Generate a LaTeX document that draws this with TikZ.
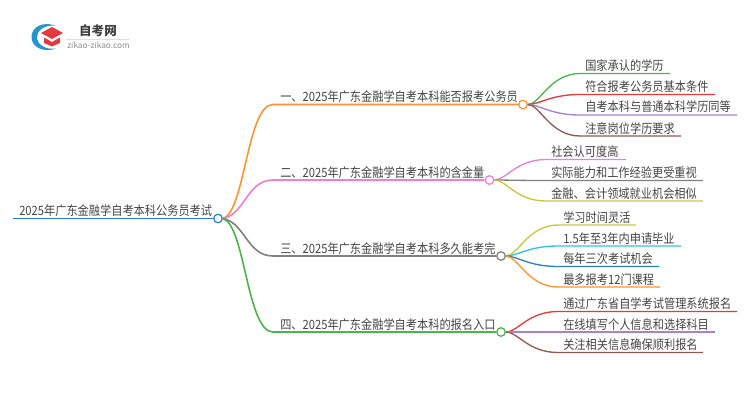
\documentclass[tikz,border=0pt]{standalone}
\usepackage{fontspec}
\setmainfont{Noto Sans CJK SC}
\newfontfamily\lblfont[FakeStretch=0.875]{Noto Sans CJK SC}
\definecolor{ctext}{HTML}{444444}
\definecolor{cblue}{HTML}{2B82C9}
\definecolor{corange}{HTML}{FF9233}
\definecolor{cpink}{HTML}{EE7FD2}
\definecolor{cgray}{HTML}{808080}
\definecolor{cgreen}{HTML}{4DB34D}
\definecolor{cred}{HTML}{E23B3F}
\definecolor{cpurple}{HTML}{A981CE}
\definecolor{cbrown}{HTML}{8E5B52}
\definecolor{colive}{HTML}{C8C83F}
\definecolor{ccyan}{HTML}{2FC4DC}
\tikzset{
  x=0.75pt,y=-0.75pt,
  lbl/.style={anchor=base west,inner sep=0pt,text=ctext,font=\lblfont\fontsize{9.6pt}{11pt}\selectfont},
  hub/.style={circle,draw=#1,fill=white,line width=0.95pt,minimum size=6.4pt,inner sep=0pt},
  trunk/.style={draw=#1,line width=1.2pt},
  twig/.style={draw=#1,line width=1pt},
}
\newcommand{\mytwig}[8]{%
  \coordinate (#2s) at (#5,#4);
  \coordinate (#2e) at (#6,#4);
  \node[lbl] (#2) at (#7,#4-3) {#8};
  \draw[twig=#3] (#1.east) .. controls +(12,0) and +(-30,0) .. (#2s) -- (#2e);
}
\begin{document}
\begin{tikzpicture}
\useasboundingbox (0,0) rectangle (750,410);
% logo
\fill[cblue!85!cyan] (55,25.5) .. controls (44,21.5) and (31.5,26) .. (31.5,37) .. controls (31.5,47.5) and (44,53) .. (56,48.5) .. controls (46,50) and (37,45) .. (37,37) .. controls (37,30) and (45,25) .. (55,25.5) -- cycle;
\fill[cred] (52,27) -- (63,33) -- (52,39) -- (41,33) -- cycle;
\fill[cred] (44,37.5) -- (52,42) -- (60,37.5) -- (60,43) -- (52,46.5) -- (44,43) -- cycle;
\node[inner sep=0pt,text=black!75,font=\fontsize{9.4pt}{11pt}\selectfont\bfseries] (logot) at (98,30.5) {自考网};
\node[inner sep=0pt,text=black!45,font=\fontsize{6.2pt}{7pt}\selectfont] (logou) at (98.5,45) {zikao-zikao.com};
\coordinate (logoa) at (66,39);
\coordinate (logob) at (130,39);
\draw[black!12,line width=0.5pt] (logoa) -- (logob);
% root
\node[hub=cblue] (root) at (218,218.5) {};
\coordinate (roots) at (13,218.5);
\node[lbl] (roott) at (19,215.5) {2025年广东金融学自考本科公务员考试};
\draw[trunk=cblue] (roots) -- (root);
% branches
\node[hub=corange] (a) at (523,104.5) {};
\node[hub=cpink] (b) at (489.5,180) {};
\node[hub=cgray] (c) at (501,256) {};
\node[hub=cgreen] (d) at (501,332) {};
\coordinate (as) at (273,104.5);
\coordinate (bs) at (273,180);
\coordinate (cs) at (273,256);
\coordinate (ds) at (273,332);
\node[lbl] (at) at (280,101.5) {一、2025年广东金融学自考本科能否报考公务员};
\node[lbl] (bt) at (280,177) {二、2025年广东金融学自考本科的含金量};
\node[lbl] (ct) at (280,253) {三、2025年广东金融学自考本科多久能考完};
\node[lbl] (dt) at (280,329) {四、2025年广东金融学自考本科的报名入口};
\draw[trunk=corange] (root.east) .. controls +(22,-6) and +(-26,0) .. (as) -- (a);
\draw[trunk=cpink] (root.east) .. controls +(22,-4) and +(-26,0) .. (bs) -- (b);
\draw[trunk=cgray] (root.east) .. controls +(22,4) and +(-26,0) .. (cs) -- (c);
\draw[trunk=cgreen] (root.east) .. controls +(22,6) and +(-26,0) .. (ds) -- (d);
% leaves
\mytwig{a}{a1}{cgreen}{73.5}{580}{670}{585}{国家承认的学历}
\mytwig{a}{a2}{cred}{94.5}{580}{715}{585}{符合报考公务员基本条件}
\mytwig{a}{a3}{cpurple}{115}{580}{737}{585}{自考本科与普通本科学历同等}
\mytwig{a}{a4}{cbrown}{136}{580}{681}{585}{注意岗位学历要求}
\mytwig{b}{b1}{cpink}{159.5}{546}{626}{551}{社会认可度高}
\mytwig{b}{b2}{cgray}{180.5}{546}{703}{551}{实际能力和工作经验更受重视}
\mytwig{b}{b3}{colive}{201}{546}{703}{551}{金融、会计领域就业机会相似}
\mytwig{c}{c1}{colive}{225}{558}{636}{563}{学习时间灵活}
\mytwig{c}{c2}{ccyan}{246}{558}{681}{563}{1.5年至3年内申请毕业}
\mytwig{c}{c3}{cblue}{266.5}{558}{659}{563}{每年三次考试机会}
\mytwig{c}{c4}{corange}{287}{558}{660}{563}{最多报考12门课程}
\mytwig{d}{d1}{cred}{311.5}{558}{737}{563}{通过广东省自学考试管理系统报名}
\mytwig{d}{d2}{cpurple}{332}{558}{715}{563}{在线填写个人信息和选择科目}
\mytwig{d}{d3}{cbrown}{352.5}{558}{703}{563}{关注相关信息确保顺利报名}
\end{tikzpicture}
\end{document}
